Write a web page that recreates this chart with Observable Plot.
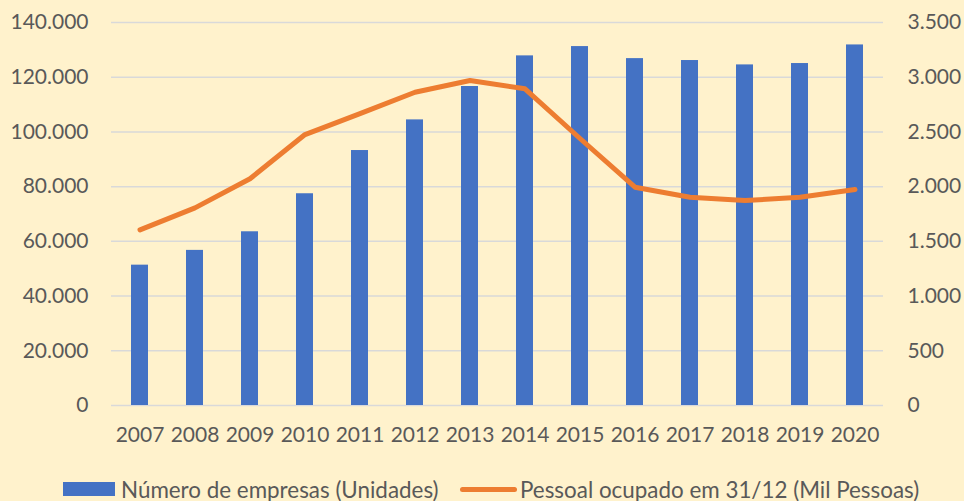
<!DOCTYPE html>
<html>
<head>
<meta charset="utf-8">
<script src="https://cdn.jsdelivr.net/npm/d3@7"></script>
<script src="https://cdn.jsdelivr.net/npm/@observablehq/plot@0.6"></script>
<style>
  html, body { margin: 0; padding: 0; background: #FFF2CC; }
  #wrap { position: relative; width: 964px; height: 501px; background: #FFF2CC; font-family: Lato, "Open Sans", sans-serif; color: #595959; overflow: hidden; }
  #chart { position: absolute; left: 0; top: 0; }
  .leg { position: absolute; top: 476px; height: 26px; display: flex; align-items: center; font-size: 22.4px; color: #595959; white-space: nowrap; }
  .sw-bar { width: 52px; height: 14px; background: #4472C4; margin-right: 6px; }
  .sw-line { width: 57px; height: 5px; border-radius: 3px; background: #ED7D31; margin-right: 3px; }
</style>
</head>
<body>
<div id="wrap">
  <div id="chart"></div>
  <div class="leg" style="left:63px"><div class="sw-bar"></div><span id="lab1"></span></div>
  <div class="leg" style="left:460px"><div class="sw-line"></div><span id="lab2"></span></div>
</div>
<script>
const years = ["2007","2008","2009","2010","2011","2012","2013","2014","2015","2016","2017","2018","2019","2020"];
const empresas = [51300, 56700, 63500, 77400, 93200, 104400, 116600, 127800, 131200, 126800, 126100, 124500, 125000, 131800];
const pessoal = [1605, 1806, 2072, 2476, 2668, 2863, 2970, 2894, 2440, 1995, 1903, 1873, 1903, 1974];
const leftTicks = [0, 20000, 40000, 60000, 80000, 100000, 120000, 140000];
const rightTicks = [0, 500, 1000, 1500, 2000, 2500, 3000, 3500];
const seriesNames = ["Número de empresas (Unidades)", "Pessoal ocupado em 31/12 (Mil Pessoas)"];

const ratio = 140000 / 3500;
const loc = d3.formatLocale({decimal: ",", thousands: ".", grouping: [3], currency: ["R$", ""]});
const fmt = loc.format(",d");

const data = years.map((y, i) => ({year: y, empresas: empresas[i], pessoal: pessoal[i]}));

document.getElementById("lab1").textContent = seriesNames[0];
document.getElementById("lab2").textContent = seriesNames[1];

const chart = Plot.plot({
  width: 964,
  height: 460,
  marginLeft: 111,
  marginRight: 81,
  marginTop: 22,
  marginBottom: 55,
  style: {background: "transparent", fontFamily: "Lato, 'Open Sans', sans-serif", fontSize: "21px", color: "#595959"},
  x: {domain: years, paddingInner: 0.69, paddingOuter: 0.345, label: null},
  y: {domain: [0, 140000], label: null},
  marks: [
    Plot.ruleY(leftTicks, {stroke: "#D9D9D9", strokeWidth: 1.5}),
    Plot.barY(data, {x: "year", y: "empresas", fill: "#4472C4"}),
    Plot.lineY(data, {x: "year", y: d => d.pessoal * ratio, stroke: "#ED7D31", strokeWidth: 5, strokeLinejoin: "round", strokeLinecap: "round"}),
    Plot.axisX({tickSize: 0, tickPadding: 22, fontSize: 21, fill: "#595959", label: null}),
    Plot.axisY({ticks: leftTicks, tickSize: 0, tickPadding: 23, tickFormat: fmt, fontSize: 21, fill: "#595959", label: null}),
    Plot.axisY({anchor: "right", ticks: rightTicks.map(v => v * ratio), tickSize: 0, tickPadding: 24, tickFormat: v => fmt(v / ratio), fontSize: 21, fill: "#595959", label: null})
  ]
});
document.getElementById("chart").appendChild(chart);
</script>
</body>
</html>
